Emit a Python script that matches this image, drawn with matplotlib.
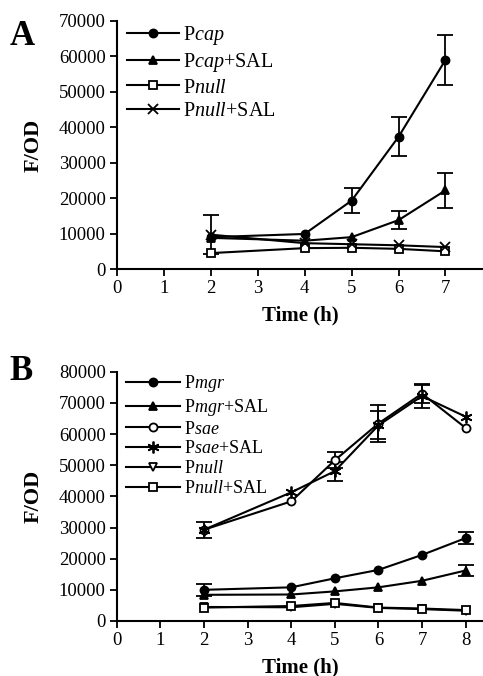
import matplotlib
matplotlib.use("Agg")
import matplotlib.pyplot as plt
import numpy as np

plt.rcParams["font.family"] = ["Liberation Serif", "DejaVu Serif"]
plt.rcParams["mathtext.fontset"] = "custom"
plt.rcParams["mathtext.rm"] = "Liberation Serif"
plt.rcParams["mathtext.it"] = "Liberation Serif:italic"

# panel A data
time_a = [2, 4, 5, 6, 7]
pcap = [9000, 9900, 19300, 37300, 59000]
pcap_err = [0, 0, 3600, 5500, 7000]
pcap_sal = [8800, 8000, 9000, 13800, 22200]
pcap_sal_err = [0, 0, 0, 2500, 4900]
pnull_a = [4500, 5900, 6000, 5700, 5000]
pnull_a_err = [0, 0, 0, 0, 0]
pnull_sal_a = [9700, 7300, 7000, 6700, 6200]
pnull_sal_a_err = [5500, 0, 0, 0, 0]

# panel B data
time_b = [2, 4, 5, 6, 7, 8]
pmgr = [10000, 10800, 13700, 16400, 21200, 26600]
pmgr_err = [2000, 0, 0, 0, 0, 2000]
pmgr_sal = [8400, 8500, 9500, 10800, 12900, 16200]
pmgr_sal_err = [0, 0, 0, 0, 0, 1800]
psae = [29300, 38400, 51600, 63400, 73000, 62000]
psae_err = [2500, 0, 2500, 5800, 3000, 0]
psae_sal = [29300, 41300, 48100, 62800, 72200, 65600]
psae_sal_err = [0, 0, 3000, 4500, 3700, 0]
pnull_b = [4500, 4400, 5500, 4200, 3800, 3300]
pnull_b_err = [0, 0, 0, 0, 0, 0]
pnull_sal_b = [4300, 4800, 5800, 4300, 4000, 3500]
pnull_sal_b_err = [0, 0, 0, 0, 0, 0]

labels_a = ["P$\\mathit{cap}$", "P$\\mathit{cap}$+SAL", "P$\\mathit{null}$", "P$\\mathit{null}$+SAL"]
labels_b = ["P$\\mathit{mgr}$", "P$\\mathit{mgr}$+SAL", "P$\\mathit{sae}$", "P$\\mathit{sae}$+SAL",
            "P$\\mathit{null}$", "P$\\mathit{null}$+SAL"]


def draw(ax, x, y, err, marker, face, label, ms=5.8):
    x = np.array(x)
    y = np.array(y, dtype=float)
    err = np.array(err, dtype=float)
    m = err > 0
    if m.any():
        ax.errorbar(x[m], y[m], yerr=err[m], fmt="none", ecolor="black",
                    elinewidth=1.3, capsize=5.5, capthick=1.3, zorder=2)
    ax.plot(x, y, color="black", lw=1.5, marker=marker, ms=ms,
            mfc=face, mec="black", mew=1.3, label=label, zorder=3)


def style(ax, ymax, ystep, xmax, nticks):
    for s in ["top", "right"]:
        ax.spines[s].set_visible(False)
    for s in ["left", "bottom"]:
        ax.spines[s].set_linewidth(1.5)
    ax.set_xlim(0, xmax)
    ax.set_ylim(0, ymax)
    ax.set_xticks(range(nticks))
    ax.set_yticks(np.arange(0, ymax + 1, ystep))
    ax.tick_params(direction="out", length=5, width=1.3, labelsize=13.5, pad=3)
    ax.set_ylabel("F/OD", fontsize=16, fontweight="bold", labelpad=11)
    ax.set_xlabel("Time (h)", fontsize=15, fontweight="bold", labelpad=6)


fig = plt.figure(figsize=(4.83, 6.76), dpi=100)

ax1 = fig.add_axes([0.242, 0.602, 0.758, 0.367])
draw(ax1, time_a, pcap, pcap_err, "o", "black", labels_a[0])
draw(ax1, time_a, pcap_sal, pcap_sal_err, "^", "black", labels_a[1])
draw(ax1, time_a, pnull_a, pnull_a_err, "s", "white", labels_a[2])
draw(ax1, time_a, pnull_sal_a, pnull_sal_a_err, "x", "black", labels_a[3], ms=7.5)
style(ax1, 70000, 10000, 7.8, 8)
ax1.legend(loc="upper left", frameon=False, fontsize=14.5, handlelength=2.6,
           handletextpad=0.2, labelspacing=0.22, borderaxespad=0.1,
           bbox_to_anchor=(0.0, 1.03))

ax2 = fig.add_axes([0.242, 0.0814, 0.758, 0.3686])
draw(ax2, time_b, pmgr, pmgr_err, "o", "black", labels_b[0])
draw(ax2, time_b, pmgr_sal, pmgr_sal_err, "^", "black", labels_b[1])
draw(ax2, time_b, psae, psae_err, "o", "white", labels_b[2])
draw(ax2, time_b, psae_sal, psae_sal_err, (6, 2, 0), "black", labels_b[3], ms=8.5)
draw(ax2, time_b, pnull_b, pnull_b_err, "v", "white", labels_b[4])
draw(ax2, time_b, pnull_sal_b, pnull_sal_b_err, "s", "white", labels_b[5])
style(ax2, 80000, 10000, 8.4, 9)
ax2.legend(loc="upper left", frameon=False, fontsize=13, handlelength=3.0,
           handletextpad=0.2, labelspacing=0.15, borderaxespad=0.1,
           bbox_to_anchor=(0.0, 1.03))

fig.text(0.02, 0.97, "A", fontsize=25, fontweight="bold", va="top")
fig.text(0.02, 0.475, "B", fontsize=25, fontweight="bold", va="top")

fig.savefig("out.png", dpi=100)
